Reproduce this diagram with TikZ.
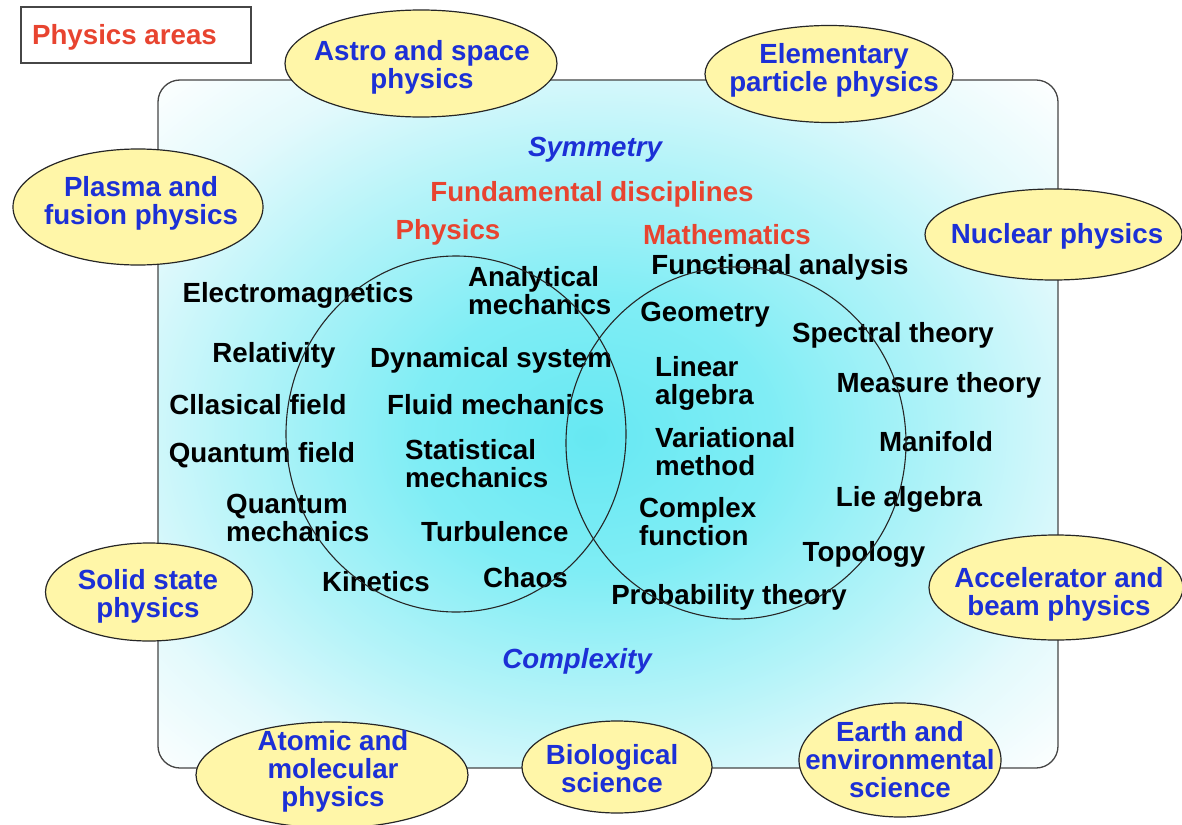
\documentclass[tikz,border=0pt]{standalone}
\usepackage{fontspec}
\setmainfont{Liberation Sans}
\usetikzlibrary{shapes.geometric}
\definecolor{areayellow}{RGB}{255,246,168}
\definecolor{areablue}{RGB}{28,48,214}
\definecolor{headred}{RGB}{232,68,48}
\definecolor{framegray}{RGB}{70,70,70}
\pgfdeclareradialshading{bgshade}{\pgfpoint{-1bp}{-1bp}}{rgb(0bp)=(0.40,0.91,0.95); rgb(10bp)=(0.50,0.93,0.96); rgb(20bp)=(0.71,0.955,0.975); rgb(28bp)=(0.89,0.978,0.988); rgb(36bp)=(1,1,1); rgb(50bp)=(1,1,1)}
\tikzset{
 txt/.style={inner sep=0pt, font=\fontsize{27.7bp}{28bp}\selectfont\bfseries},
 topic/.style={txt, text=black, anchor=base},
 topicw/.style={txt, text=black, anchor=north west, align=left},
 head/.style={txt, text=headred, anchor=base},
 theme/.style={txt, text=areablue, anchor=base, font=\fontsize{27.7bp}{28bp}\selectfont\bfseries\itshape},
 areashape/.style={ellipse, draw=black!85, line width=1.2bp, fill=areayellow, inner sep=0pt},
 arealabel/.style={txt, text=areablue, align=center},
 venn/.style={ellipse, draw=black!85, line width=1.1bp, inner sep=0pt},
}
\begin{document}
\begin{tikzpicture}[x=1bp, y=-1bp]
\useasboundingbox (0,0) rectangle (1182,825);
\fill[white] (0,0) rectangle (1182,825);
% frame with gradient
\node[draw=framegray, line width=1.3bp, rounded corners=22bp, shade, shading=bgshade,
      minimum width=900bp, minimum height=688bp, inner sep=0pt] (frame) at (608,424) {};
% physics areas box
\node[draw=framegray, line width=1.8bp, minimum width=230bp, minimum height=56bp, inner sep=0pt] (areasbox) at (136,35) {};
\node[head] (areastxt) at (124.5,44) {Physics areas};
% headings
\node[theme] (sym) at (595,156) {Symmetry};
\node[head] (fund) at (592,201) {Fundamental disciplines};
\node[head] (phys) at (448,239) {Physics};
\node[head] (math) at (727,244) {Mathematics};
\node[theme] (cplx) at (577,668) {Complexity};
% physics topics
\node[topic] (em) at (298,302) {Electromagnetics};
\node[topicw] (am) at (468,266) {Analytical\\mechanics};
\node[topic] (rel) at (274,362) {Relativity};
\node[topic, anchor=base west] (dyn) at (370,367) {Dynamical system};
\node[topic] (clf) at (258,414) {Cllasical field};
\node[topic, anchor=base west] (fm) at (387,414) {Fluid mechanics};
\node[topic] (qf) at (262,462) {Quantum field};
\node[topicw] (sm) at (405,439) {Statistical\\mechanics};
\node[topicw] (qm) at (226,494) {Quantum\\mechanics};
\node[topic, anchor=base west] (turb) at (421,541) {Turbulence};
\node[topic] (kin) at (376,591) {Kinetics};
\node[topic, anchor=base west] (chaos) at (483,587) {Chaos};
% mathematics topics
\node[topic] (fa) at (780,274) {Functional analysis};
\node[topic] (geo) at (705,321) {Geometry};
\node[topic] (spec) at (893,342) {Spectral theory};
\node[topicw] (la) at (655,356) {Linear\\algebra};
\node[topic] (meas) at (939,392) {Measure theory};
\node[topicw] (var) at (655,427) {Variational\\method};
\node[topic] (mani) at (936,451) {Manifold};
\node[topic] (lie) at (909,506) {Lie algebra};
\node[topicw] (cf) at (639,497) {Complex\\function};
\node[topic] (top) at (864,561) {Topology};
\node[topic] (prob) at (729,604) {Probability theory};
% venn circles
\node[venn, minimum width=340bp, minimum height=356bp] (physc) at (456,434) {};
\node[venn, minimum width=340bp, minimum height=352bp] (mathc) at (736,443) {};
% area ellipses
\node[areashape, minimum width=272bp, minimum height=107bp] (astro) at (421,63.5) {};
\node[arealabel] at (422,67) {Astro and space\\physics};
\node[areashape, minimum width=248bp, minimum height=97bp] (elem) at (829,74) {};
\node[arealabel] at (834,70) {Elementary\\particle physics};
\node[areashape, minimum width=250bp, minimum height=116bp] (plasma) at (138,207) {};
\node[arealabel] at (141,203) {Plasma and\\fusion physics};
\node[areashape, minimum width=257bp, minimum height=91bp] (nuc) at (1053.5,234.5) {};
\node[arealabel] at (1057,236) {Nuclear physics};
\node[areashape, minimum width=207bp, minimum height=98bp] (solid) at (149,592) {};
\node[arealabel] at (148,596) {Solid state\\physics};
\node[areashape, minimum width=254bp, minimum height=105bp] (accel) at (1056,587.5) {};
\node[arealabel] at (1059,594) {Accelerator and\\beam physics};
\node[areashape, minimum width=272bp, minimum height=106bp] (atom) at (332,775) {};
\node[arealabel] at (333,771) {Atomic and\\molecular\\physics};
\node[areashape, minimum width=190bp, minimum height=92bp] (bio) at (617,767) {};
\node[arealabel] at (612,769) {Biological\\science};
\node[areashape, minimum width=202bp, minimum height=114bp] (earth) at (900,760) {};
\node[arealabel] at (900,760) {Earth and\\environmental\\science};
\end{tikzpicture}
\end{document}
